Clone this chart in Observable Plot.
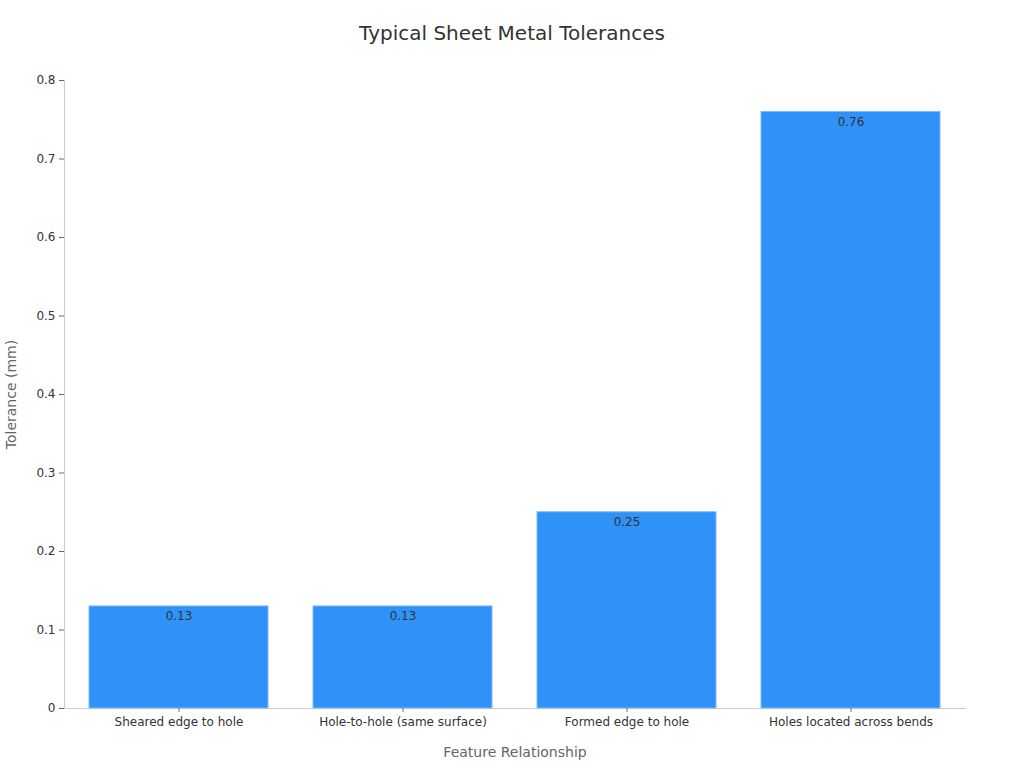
<!DOCTYPE html>
<html>
<head>
<meta charset="utf-8">
<script src="https://cdn.jsdelivr.net/npm/d3@7"></script>
<script src="https://cdn.jsdelivr.net/npm/@observablehq/plot@0.6"></script>
<style>
  body { margin: 0; background: #fff; font-family: "DejaVu Sans", sans-serif; }
  #title { height: 66px; line-height: 66px; text-align: center; font-size: 20px; color: #333; }
</style>
</head>
<body>
<div id="title">Typical Sheet Metal Tolerances</div>
<div id="chart"></div>
<script>
const categories = ["Sheared edge to hole", "Hole-to-hole (same surface)", "Formed edge to hole", "Holes located across bends"];
const values = [0.13, 0.13, 0.25, 0.76];
const yTicks = [0, 0.1, 0.2, 0.3, 0.4, 0.5, 0.6, 0.7, 0.8];

const data = categories.map((c, i) => ({category: c, value: values[i]}));

const chart = Plot.plot({
  width: 1024,
  height: 702,
  marginLeft: 64,
  marginRight: 59,
  marginTop: 14,
  marginBottom: 60,
  style: {fontFamily: "DejaVu Sans, sans-serif", fontSize: "12px", color: "#333", background: "#fff"},
  x: {domain: categories, paddingInner: 0.2, paddingOuter: 0.105, label: null},
  y: {domain: [0, 0.8], label: null},
  marks: [
    Plot.frame({anchor: "bottom", stroke: "#ccc"}),
    Plot.frame({anchor: "left", stroke: "#ccc"}),
    Plot.barY(data, {x: "category", y: "value", fill: "#2f92f8", stroke: "#7dbbfa", strokeWidth: 1}),
    Plot.text(data, {x: "category", y: "value", text: d => d.value.toFixed(2), dy: 10, fill: "#333", fontSize: 12}),
    Plot.axisY({ticks: yTicks, tickFormat: d => d === 0 ? "0" : d3.format(".1f")(d), tickSize: 5, stroke: "#666", fill: "#333", fontSize: 12, label: null}),
    Plot.axisX({tickSize: 4, stroke: "#666", fill: "#333", fontSize: 12, label: null, tickPadding: 5}),
    Plot.axisX({ticks: [], label: "Feature Relationship", labelAnchor: "center", labelArrow: "none", labelOffset: 48, fill: "#666", fontSize: 14}),
    Plot.axisY({ticks: [], label: "Tolerance (mm)", labelAnchor: "center", labelArrow: "none", labelOffset: 58, fill: "#666", fontSize: 14})
  ]
});

document.getElementById("chart").appendChild(chart);
</script>
</body>
</html>
